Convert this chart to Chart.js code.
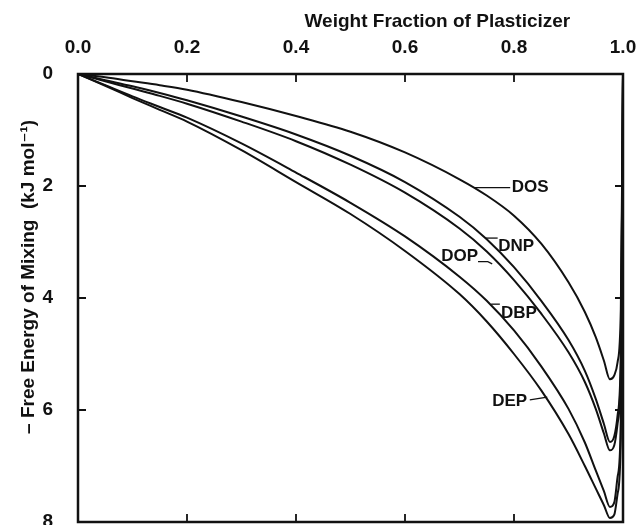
<!DOCTYPE html>
<html>
<head>
<meta charset="utf-8">
<script src="https://cdn.jsdelivr.net/npm/chart.js@4.4.1/dist/chart.umd.min.js"></script>
<style>
html,body{margin:0;padding:0;background:#fff;}
#c{display:block;}
</style>
</head>
<body>
<canvas id="c" width="641" height="525"></canvas>
<script>
// ---- data ----
const fraction = [0, 0.05, 0.1, 0.15, 0.2, 0.3, 0.4, 0.5, 0.6, 0.7, 0.75, 0.8, 0.85, 0.9, 0.93, 0.95, 0.965, 0.976, 0.984, 0.99, 0.996, 1.0];
const DOS = [0, 0.06, 0.13, 0.20, 0.28, 0.50, 0.75, 1.03, 1.40, 1.88, 2.17, 2.53, 3.03, 3.72, 4.25, 4.70, 5.12, 5.45, 5.38, 5.15, 4.20, 0];
const DNP = [0, 0.11, 0.22, 0.34, 0.47, 0.76, 1.08, 1.46, 1.93, 2.55, 2.95, 3.45, 4.05, 4.75, 5.30, 5.80, 6.25, 6.57, 6.47, 6.10, 5.00, 0];
const DOP = [0, 0.13, 0.26, 0.39, 0.53, 0.85, 1.20, 1.62, 2.12, 2.76, 3.17, 3.68, 4.28, 4.97, 5.50, 5.98, 6.42, 6.72, 6.63, 6.25, 5.20, 0];
const DBP = [0, 0.20, 0.40, 0.59, 0.78, 1.24, 1.76, 2.30, 2.90, 3.62, 4.05, 4.58, 5.22, 5.98, 6.58, 7.08, 7.45, 7.73, 7.65, 7.20, 6.20, 0];
const DEP = [0, 0.21, 0.43, 0.64, 0.85, 1.36, 1.93, 2.50, 3.16, 3.93, 4.42, 5.00, 5.65, 6.43, 7.00, 7.40, 7.70, 7.93, 7.87, 7.50, 6.50, 0];
const seriesNames = ['DOS', 'DNP', 'DOP', 'DBP', 'DEP'];
const seriesValues = [DOS, DNP, DOP, DBP, DEP];
const xTicks = [0, 0.2, 0.4, 0.6, 0.8, 1.0];
const yTicks = [0, 2, 4, 6, 8];
const xTitle = 'Weight Fraction of Plasticizer';
const yTitle = '\u2013 Free Energy of Mixing  (kJ mol\u207B\u00B9)';

// ---- curve label annotations (data coordinates) ----
const notes = [
  {text: 'DOS', tx: 0.796, ty: 2.03, align: 'left',  leader: [[0.728, 2.03], [0.793, 2.03]]},
  {text: 'DNP', tx: 0.771, ty: 3.07, align: 'left',  leader: [[0.747, 2.93], [0.770, 2.93]]},
  {text: 'DOP', tx: 0.734, ty: 3.26, align: 'right', leader: [[0.734, 3.35], [0.752, 3.35], [0.760, 3.39]]},
  {text: 'DBP', tx: 0.776, ty: 4.28, align: 'left',  leader: [[0.758, 4.11], [0.774, 4.11]]},
  {text: 'DEP', tx: 0.824, ty: 5.84, align: 'right', leader: [[0.829, 5.82], [0.861, 5.77]]}
];

const FONT = "'Liberation Sans', Arial, 'DejaVu Sans', sans-serif";
const INK = '#111';

const framePlugin = {
  id: 'frame',
  afterDatasetsDraw(chart) {
    const {ctx, chartArea: a, scales: {x, y}} = chart;
    ctx.save();
    ctx.strokeStyle = INK;
    ctx.lineWidth = 1.8;
    ctx.beginPath();
    xTicks.forEach(v => {
      if (v === x.min || v === x.max) return;
      const px = x.getPixelForValue(v);
      ctx.moveTo(px, a.top); ctx.lineTo(px, a.top + 8);
      ctx.moveTo(px, a.bottom); ctx.lineTo(px, a.bottom - 8);
    });
    yTicks.forEach(v => {
      if (v === y.min || v === y.max) return;
      const py = y.getPixelForValue(v);
      ctx.moveTo(a.left, py); ctx.lineTo(a.left + 8, py);
      ctx.moveTo(a.right, py); ctx.lineTo(a.right - 8, py);
    });
    ctx.stroke();
    ctx.lineWidth = 2.5;
    ctx.strokeRect(a.left, a.top, a.right - a.left, a.bottom - a.top);
    // curve labels
    ctx.lineWidth = 1.3;
    ctx.fillStyle = INK;
    ctx.font = "bold 17px " + FONT;
    ctx.textBaseline = 'middle';
    notes.forEach(n => {
      ctx.beginPath();
      n.leader.forEach((p, i) => {
        const px = x.getPixelForValue(p[0]), py = y.getPixelForValue(p[1]);
        if (i === 0) ctx.moveTo(px, py); else ctx.lineTo(px, py);
      });
      ctx.stroke();
      ctx.textAlign = n.align;
      ctx.fillText(n.text, x.getPixelForValue(n.tx), y.getPixelForValue(n.ty));
    });
    ctx.restore();
  }
};

new Chart(document.getElementById('c'), {
  type: 'line',
  data: {
    datasets: seriesNames.map((name, i) => ({
      label: name,
      data: fraction.map((f, j) => ({x: f, y: seriesValues[i][j]})),
      borderColor: INK,
      borderWidth: 2,
      pointRadius: 0,
      fill: false,
      cubicInterpolationMode: 'monotone'
    }))
  },
  options: {
    responsive: false,
    animation: false,
    layout: {padding: {left: 0, top: 0, right: 18, bottom: 3}},
    plugins: {legend: {display: false}, tooltip: {enabled: false}},
    scales: {
      x: {
        type: 'linear',
        position: 'top',
        min: 0, max: 1,
        afterBuildTicks: s => { s.ticks = xTicks.map(v => ({value: v})); },
        ticks: {
          callback: v => Number(v).toFixed(1),
          font: {family: FONT, size: 19, weight: 'bold'},
          color: INK, padding: 15, maxRotation: 0, autoSkip: false
        },
        grid: {display: false, drawTicks: false},
        border: {display: false},
        title: {
          display: true, text: xTitle + '          ', align: 'end',
          font: {family: FONT, size: 19, weight: 'bold'}, color: INK,
          padding: {top: 10, bottom: 0}
        },
        afterFit: s => { s.height = 74; s.paddingLeft = 0; s.paddingRight = 0; }
      },
      y: {
        type: 'linear',
        reverse: true,
        min: 0, max: 8,
        afterBuildTicks: s => { s.ticks = yTicks.map(v => ({value: v})); },
        ticks: {
          font: {family: FONT, size: 19, weight: 'bold'},
          color: INK, padding: 25
        },
        grid: {display: false, drawTicks: false},
        border: {display: false},
        title: {
          display: true, text: '        ' + yTitle, align: 'center',
          font: {family: FONT, size: 19, weight: 'bold'}, color: INK,
          padding: {top: 17, bottom: 0}
        },
        afterFit: s => { s.width = 78; s.paddingTop = 0; s.paddingBottom = 0; }
      }
    }
  },
  plugins: [framePlugin]
});
</script>
</body>
</html>
